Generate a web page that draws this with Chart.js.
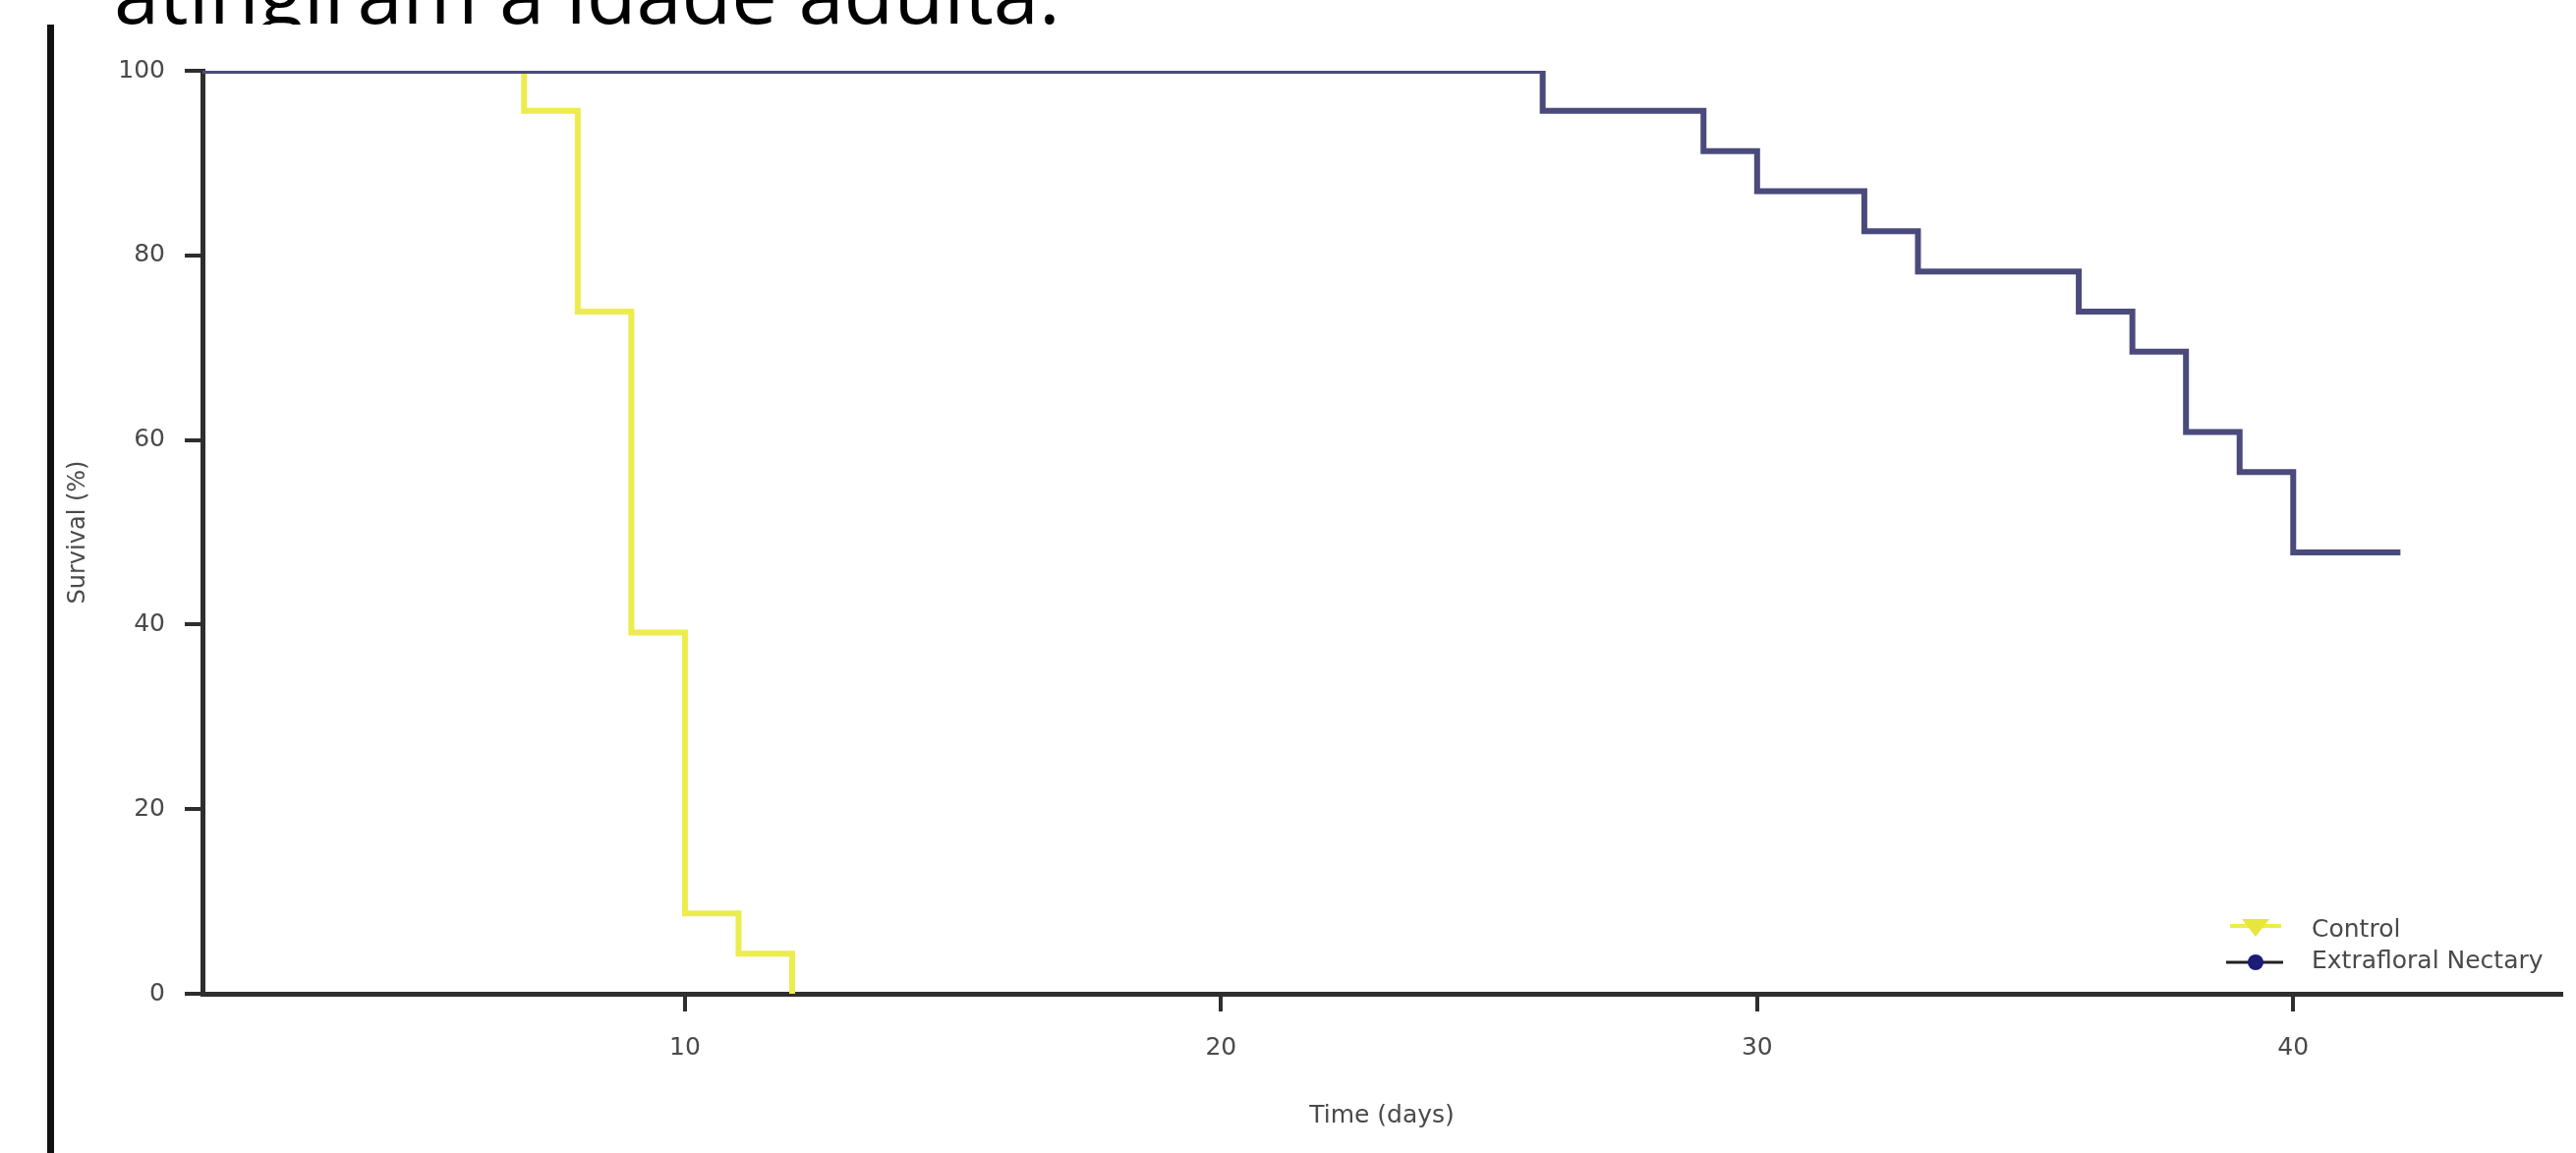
<!DOCTYPE html>
<html>
<head>
<meta charset="utf-8">
<script src="https://cdn.jsdelivr.net/npm/chart.js@4.4.1/dist/chart.umd.min.js"></script>
<style>
    body { margin: 0; background: #fff; overflow: hidden; }
    #wrap { position: relative; width: 2621px; height: 1173px; }
    #heading { position: absolute; left: 116px; top: 0; width: 1300px; height: 25px; overflow: hidden; }
    #heading span { position: absolute; left: 0; top: -50px; font: 83px/83px "Open Sans", sans-serif; color: #000; white-space: nowrap; }
    #frame { position: absolute; left: 48px; top: 25px; width: 7px; height: 1148px; background: #111; }
    canvas { position: absolute; left: 0; top: 0; }
</style>
</head>
<body>
<div id="wrap">
    <div id="heading"><span>atingiram a idade adulta.</span></div>
    <canvas id="survivalChart" width="2621" height="1173"></canvas>
    <div id="frame"></div>
</div>
<script>
// Kaplan-Meier steps (n = 23 per group)
const controlDays = [0, 7, 8, 9, 10, 11, 12];
const controlSurvival = [100, 95.65, 73.91, 39.13, 8.70, 4.35, 0];

const nectaryDays = [0, 26, 29, 30, 32, 33, 36, 37, 38, 39, 40, 42];
const nectarySurvival = [100, 95.65, 91.30, 86.96, 82.61, 78.26, 73.91, 69.57, 60.87, 56.52, 47.83, 47.83];

const xTicks = [10, 20, 30, 40];
const yTicks = [0, 20, 40, 60, 80, 100];

const seriesLabels = ['Control', 'Extrafloral Nectary'];

const FONT = 'DejaVu Sans';
const TEXT_COLOR = '#4a4a4a';
const AXIS_COLOR = '#2e2e2e';

function toPoints(days, values) {
    return days.map((d, i) => ({ x: d, y: values[i] }));
}

// Legend sits inside the plot, bottom right
const cornerLegend = {
    id: 'cornerLegend',
    afterDraw(chart) {
        const { ctx, chartArea } = chart;
        const textX = chartArea.right - 254;
        const markX = chartArea.right - 311;
        const rows = [chartArea.bottom - 66, chartArea.bottom - 34];

        ctx.save();
        ctx.font = `25px "${FONT}"`;
        ctx.textBaseline = 'middle';
        ctx.fillStyle = TEXT_COLOR;

        chart.data.datasets.forEach((ds, i) => {
            const y = rows[i];
            ctx.fillText(ds.label, textX, y + 1);

            if (ds.legendMarker === 'triangleDown') {
                ctx.strokeStyle = ds.borderColor;
                ctx.lineWidth = 4;
                ctx.beginPath();
                ctx.moveTo(markX - 26, y - 3);
                ctx.lineTo(markX + 26, y - 3);
                ctx.stroke();
                ctx.fillStyle = '#e6e63c';
                ctx.beginPath();
                ctx.moveTo(markX - 14, y - 10);
                ctx.lineTo(markX + 14, y - 10);
                ctx.lineTo(markX, y + 8);
                ctx.closePath();
                ctx.fill();
            } else {
                ctx.strokeStyle = '#222';
                ctx.lineWidth = 3;
                ctx.beginPath();
                ctx.moveTo(markX - 30, y + 2);
                ctx.lineTo(markX + 28, y + 2);
                ctx.stroke();
                ctx.fillStyle = '#1b1b78';
                ctx.beginPath();
                ctx.arc(markX, y + 2, 8, 0, Math.PI * 2);
                ctx.fill();
            }
            ctx.fillStyle = TEXT_COLOR;
        });
        ctx.restore();
    }
};

function createChart() {
    const ctx = document.getElementById('survivalChart').getContext('2d');
    return new Chart(ctx, {
        type: 'line',
        data: {
            datasets: [{
                label: seriesLabels[0],
                data: toPoints(controlDays, controlSurvival),
                borderColor: '#ecec4e',
                borderWidth: 6,
                stepped: true,
                pointRadius: 0,
                clip: 0,
                legendMarker: 'triangleDown',
                order: 1
            }, {
                label: seriesLabels[1],
                data: toPoints(nectaryDays, nectarySurvival),
                borderColor: '#4a4a7c',
                borderWidth: 6,
                stepped: true,
                pointRadius: 0,
                clip: 0,
                legendMarker: 'circle',
                order: 0
            }]
        },
        options: {
            responsive: false,
            animation: false,
            devicePixelRatio: 1,
            layout: { padding: { top: 72, right: 15, left: 0, bottom: 0 } },
            plugins: {
                legend: { display: false },
                tooltip: { enabled: false }
            },
            scales: {
                x: {
                    type: 'linear',
                    min: 1,
                    max: 45,
                    afterBuildTicks: (scale) => {
                        scale.ticks = xTicks.map(v => ({ value: v }));
                    },
                    afterFit: (scale) => { scale.height = 162; },
                    border: { display: true, color: AXIS_COLOR, width: 5 },
                    grid: { drawOnChartArea: false, drawTicks: true, tickLength: 18, color: AXIS_COLOR, lineWidth: 4 },
                    ticks: { color: TEXT_COLOR, font: { family: FONT, size: 25 }, padding: 22, maxRotation: 0 },
                    title: {
                        display: true,
                        text: 'Time (days)',
                        color: TEXT_COLOR,
                        font: { family: FONT, size: 25 },
                        padding: { top: 0, bottom: 23 }
                    }
                },
                y: {
                    min: 0,
                    max: 100,
                    afterBuildTicks: (scale) => {
                        scale.ticks = yTicks.map(v => ({ value: v }));
                    },
                    afterFit: (scale) => { scale.width = 206; },
                    border: { display: true, color: AXIS_COLOR, width: 5 },
                    grid: { drawOnChartArea: false, drawTicks: true, tickLength: 18, color: AXIS_COLOR, lineWidth: 4 },
                    ticks: { color: TEXT_COLOR, font: { family: FONT, size: 25 }, padding: 20 },
                    title: {
                        display: true,
                        text: 'Survival (%)',
                        color: TEXT_COLOR,
                        font: { family: FONT, size: 24 },
                        padding: { top: 65, bottom: 0 }
                    }
                }
            }
        },
        plugins: [cornerLegend]
    });
}

document.addEventListener('DOMContentLoaded', createChart);
</script>
</body>
</html>
